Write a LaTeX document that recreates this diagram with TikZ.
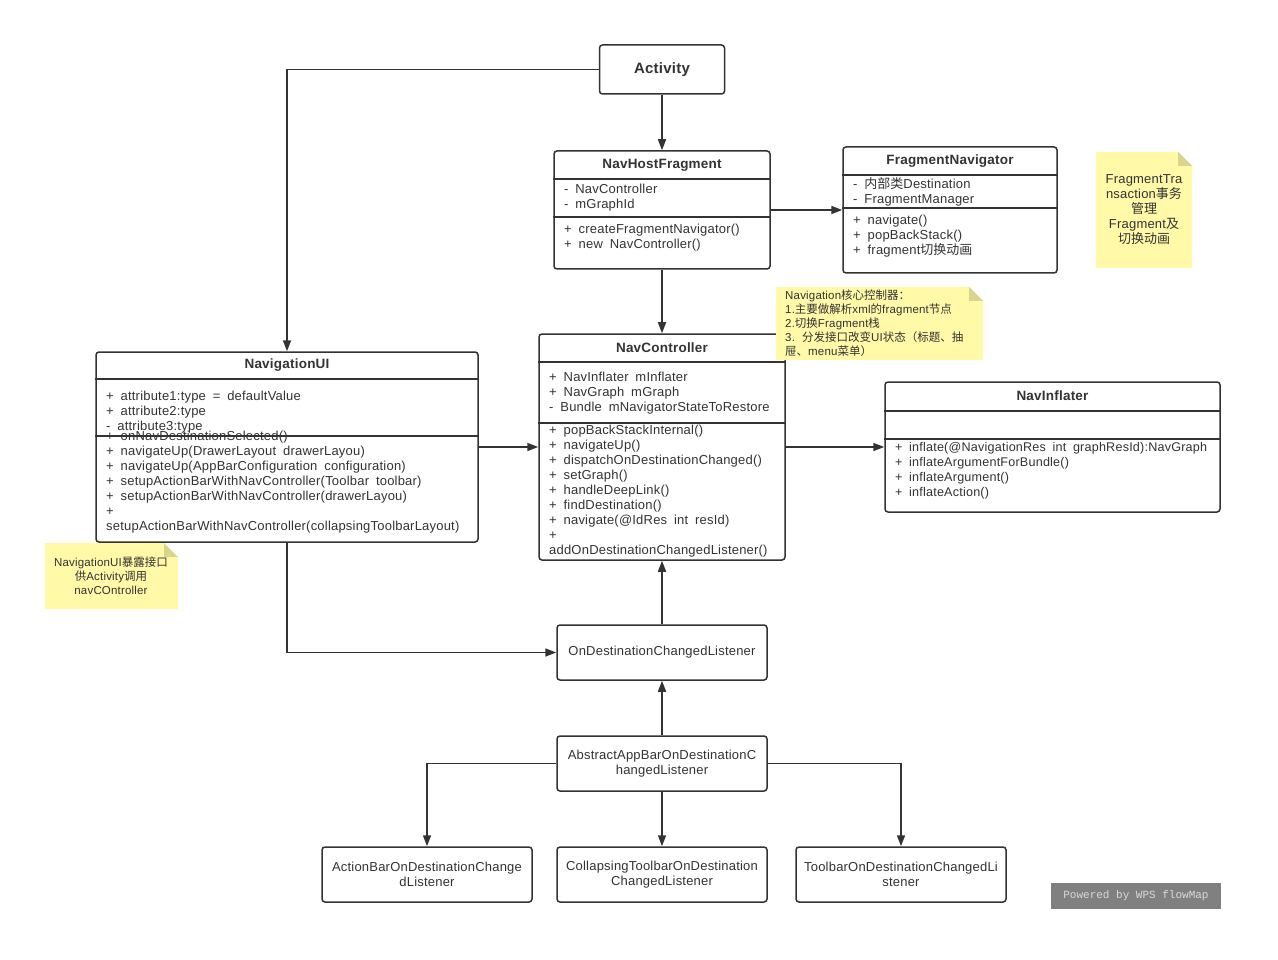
\documentclass[tikz,border=0pt]{standalone}
\usepackage{fontspec}
\setmainfont[LetterSpace=1.6,WordSpace=1.8]{Liberation Sans}
\newfontfamily\cjk{Noto Sans CJK SC}
\newfontfamily\wmfont{Liberation Mono}
\usetikzlibrary{arrows.meta}
\definecolor{ink}{HTML}{333333}
\definecolor{notefill}{HTML}{FFF9A8}
\definecolor{notefold}{HTML}{DAD58C}
\definecolor{wmgray}{HTML}{808080}
\begin{document}
\begin{tikzpicture}[x=1pt,y=-1pt]
    \tikzstyle{every node}=[text=ink]
    \tikzstyle{classe}=[draw=ink,line width=1.5pt,rounded corners=3pt,inner sep=0pt]
    \tikzstyle{titre}=[font=\bfseries\fontsize{13.5}{15}\selectfont]
    \tikzstyle{membre}=[anchor=north west,inner sep=0pt,align=left,font=\fontsize{13}{15}\selectfont]
    \tikzstyle{boite}=[classe,minimum width=210pt,minimum height=55pt,align=center,font=\fontsize{13}{15}\selectfont]
    \tikzstyle{notetexte}=[inner sep=0pt,font=\fontsize{11.5}{14}\selectfont]
    \tikzstyle{fleche}=[draw=ink,line width=1.6pt,-{Triangle[length=11pt,width=8pt]}]
    \tikzstyle{sep}=[draw=ink,line width=1.5pt]

\useasboundingbox[fill=white] (0,0) rectangle (1278,960);

% Activity
\node[classe,minimum width=125pt,minimum height=49pt,font=\bfseries\fontsize{15}{15}\selectfont] (act) at (662,69.5) {Activity};

% NavHostFragment
\node[classe,minimum width=216pt,minimum height=118pt] (host) at (662,210) {};
\node[titre] (host-t) at (662,165) {NavHostFragment};
\draw[sep] (host.west |- 0,179) -- (host.east |- 0,179);
\draw[sep] (host.west |- 0,217) -- (host.east |- 0,217);
\node[membre] (host-a) at (564,184) {- NavController\\- mGraphId};
\node[membre] (host-m) at (564,224) {+ createFragmentNavigator()\\+ new NavController()};

% FragmentNavigator
\node[classe,minimum width=214pt,minimum height=126pt] (fragnav) at (950,210) {};
\node[titre] (fragnav-t) at (950,161) {FragmentNavigator};
\draw[sep] (fragnav.west |- 0,175) -- (fragnav.east |- 0,175);
\draw[sep] (fragnav.west |- 0,208) -- (fragnav.east |- 0,208);
\node[membre] (fragnav-a) at (853,177) {- {\cjk 内部类}Destination\\- FragmentManager};
\node[membre] (fragnav-m) at (853,215) {+ navigate()\\+ popBackStack()\\+ fragment{\cjk 切换动画}};

% NavController
\node[classe,minimum width=246pt,minimum height=226pt] (navctrl) at (662,447) {};
\node[titre] (navctrl-t) at (662,348) {NavController};
\draw[sep] (navctrl.west |- 0,362) -- (navctrl.east |- 0,362);
\draw[sep] (navctrl.west |- 0,423) -- (navctrl.east |- 0,423);
\node[membre] (navctrl-a) at (549,372) {+ NavInflater mInflater\\+ NavGraph mGraph\\- Bundle mNavigatorStateToRestore};
\node[membre] (navctrl-m) at (549,425) {+ popBackStackInternal()\\+ navigateUp()\\+ dispatchOnDestinationChanged()\\+ setGraph()\\+ handleDeepLink()\\+ findDestination()\\+ navigate(@IdRes int resId)\\+\\addOnDestinationChangedListener()};

% NavigationUI
\node[classe,minimum width=382pt,minimum height=190pt] (ui) at (287,447) {};
\node[titre] (ui-t) at (287,365) {NavigationUI};
\draw[sep] (ui.west |- 0,379) -- (ui.east |- 0,379);
\draw[sep] (ui.west |- 0,436) -- (ui.east |- 0,436);
\node[membre] (ui-a) at (106,391) {+ attribute1:type = defaultValue\\+ attribute2:type\\- attribute3:type};
\node[membre] (ui-m) at (106,431) {+ onNavDestinationSelected()\\+ navigateUp(DrawerLayout drawerLayou)\\+ navigateUp(AppBarConfiguration configuration)\\+ setupActionBarWithNavController(Toolbar toolbar)\\+ setupActionBarWithNavController(drawerLayou)\\+\\setupActionBarWithNavController(collapsingToolbarLayout)};

% NavInflater
\node[classe,minimum width=335pt,minimum height=130pt] (inflater) at (1052.5,447) {};
\node[titre] (inflater-t) at (1052.5,396) {NavInflater};
\draw[sep] (inflater.west |- 0,411) -- (inflater.east |- 0,411);
\draw[sep] (inflater.west |- 0,439) -- (inflater.east |- 0,439);
\node[membre,font=\fontsize{12.6}{15}\selectfont] (inflater-m) at (895,442) {+ inflate(@NavigationRes int graphResId):NavGraph\\+ inflateArgumentForBundle()\\+ inflateArgument()\\+ inflateAction()};

% Listeners
\node[boite] (ondest) at (662,652.5) {OnDestinationChangedListener};
\node[boite] (abstr) at (662,763.5) {AbstractAppBarOnDestinationC\\hangedListener};
\node[boite] (actionbar) at (427,874.5) {ActionBarOnDestinationChange\\dListener};
\node[boite] (collapsing) at (662,874.5) {CollapsingToolbarOnDestination\\ChangedListener};
\node[boite] (toolbar) at (901,874.5) {ToolbarOnDestinationChangedLi\\stener};

% Fleches
\draw[fleche] (act.west) -| (ui.north);
\draw[fleche] (act.south) -- (host.north);
\draw[fleche] (host.east) -- (fragnav.west |- host.east);
\draw[fleche] (host.south) -- (navctrl.north);
\draw[fleche] (ui.east) -- (navctrl.west);
\draw[fleche] (navctrl.east) -- (inflater.west);
\draw[fleche] (ui.south) |- (ondest.west);
\draw[fleche] (ondest.north) -- (navctrl.south);
\draw[fleche] (abstr.north) -- (ondest.south);
\draw[fleche] (abstr.west) -| (actionbar.north);
\draw[fleche] (abstr.south) -- (collapsing.north);
\draw[fleche] (abstr.east) -| (toolbar.north);

% Notes
\fill[notefill] (1096,152) -- (1178,152) -- (1192,166) -- (1192,268) -- (1096,268) -- cycle;
\fill[notefold] (1178,152) -- (1178,166) -- (1192,166) -- cycle;
\node[notetexte,align=center,font=\fontsize{13}{15}\selectfont] (note-frag) at (1144,210) {FragmentTra\\nsaction{\cjk 事务}\\{\cjk 管理}\\Fragment{\cjk 及}\\{\cjk 切换动画}};

\fill[notefill] (776,287) -- (969,287) -- (983,301) -- (983,360) -- (776,360) -- cycle;
\fill[notefold] (969,287) -- (969,301) -- (983,301) -- cycle;
\node[notetexte,anchor=north west,align=left] (note-nav) at (785,290) {Navigation{\cjk 核心控制器：}\\1.{\cjk 主要做解析}xml{\cjk 的}fragment{\cjk 节点}\\2.{\cjk 切换}Fragment{\cjk 栈}\\3. {\cjk 分发接口改变}UI{\cjk 状态（标题、抽}\\{\cjk 屉、}menu{\cjk 菜单）}};

\fill[notefill] (45,543) -- (164,543) -- (178,557) -- (178,609) -- (45,609) -- cycle;
\fill[notefold] (164,543) -- (164,557) -- (178,557) -- cycle;
\node[notetexte,align=center] (note-ui) at (111,576) {NavigationUI{\cjk 暴露接口}\\{\cjk 供}Activity{\cjk 调用}\\navCOntroller};

% Filigrane
\node[fill=wmgray,minimum width=170pt,minimum height=26pt,inner sep=0pt,text=black!15,font=\wmfont\fontsize{11}{11}\selectfont] (wm) at (1136,896) {Powered by WPS flowMap};

\end{tikzpicture}
\end{document}
